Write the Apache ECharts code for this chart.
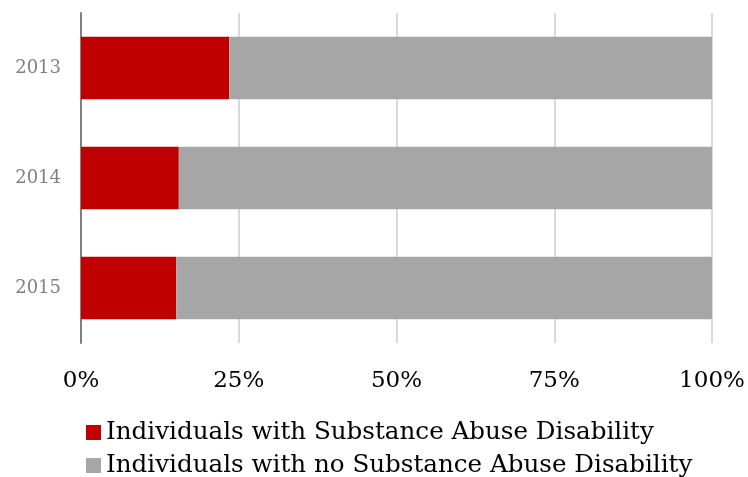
<!DOCTYPE html>
<html>
<head>
<meta charset="utf-8">
<script src="https://cdn.jsdelivr.net/npm/echarts@6/dist/echarts.min.js"></script>
<style>html,body{margin:0;padding:0;background:#fff}#c{width:748px;height:477px}</style>
</head>
<body>
<div id="c"></div>
<script>
var categories = ['2013', '2014', '2015'];
var withAbuse = [23.5, 15.5, 15.1];
var withoutAbuse = [76.5, 84.5, 84.9];
var xTicks = ['0%', '25%', '50%', '75%', '100%'];
var seriesNames = ['Individuals with Substance Abuse Disability', 'Individuals with no Substance Abuse Disability'];

var font = 'DejaVu Serif';
var chart = echarts.init(document.getElementById('c'), null, {renderer: 'canvas'});
function legendFor(name, top) {
  return {
    left: 86, top: top, icon: 'rect', padding: 0,
    itemWidth: 15, itemHeight: 15, itemGap: 0,
    textStyle: {fontFamily: font, fontSize: 24.6, color: '#000', lineHeight: 24},
    data: [name]
  };
}
chart.setOption({
  animation: false,
  grid: {left: 81, right: 36, top: 13, bottom: 134, containLabel: false},
  legend: [legendFor(seriesNames[0], 420), legendFor(seriesNames[1], 453)],
  xAxis: {
    type: 'value', min: 0, max: 100, interval: 25,
    axisLine: {show: false}, axisTick: {show: false},
    splitLine: {lineStyle: {color: '#d9d9d9', width: 2}},
    axisLabel: {fontFamily: font, fontSize: 23, color: '#000', margin: 27,
      formatter: function (v) { return xTicks[Math.round(v / 25)]; }}
  },
  yAxis: {
    type: 'category', data: categories, inverse: true,
    axisLine: {lineStyle: {color: '#808080', width: 2}},
    axisTick: {show: false},
    axisLabel: {fontFamily: font, fontSize: 18, color: '#808080', margin: 20, padding: [3, 0, 0, 0]}
  },
  series: [
    {name: seriesNames[0], type: 'bar', stack: 't', data: withAbuse, barWidth: '57%', itemStyle: {color: '#c00000'}},
    {name: seriesNames[1], type: 'bar', stack: 't', data: withoutAbuse, barWidth: '57%', itemStyle: {color: '#a6a6a6'}}
  ]
});
</script>
</body>
</html>
